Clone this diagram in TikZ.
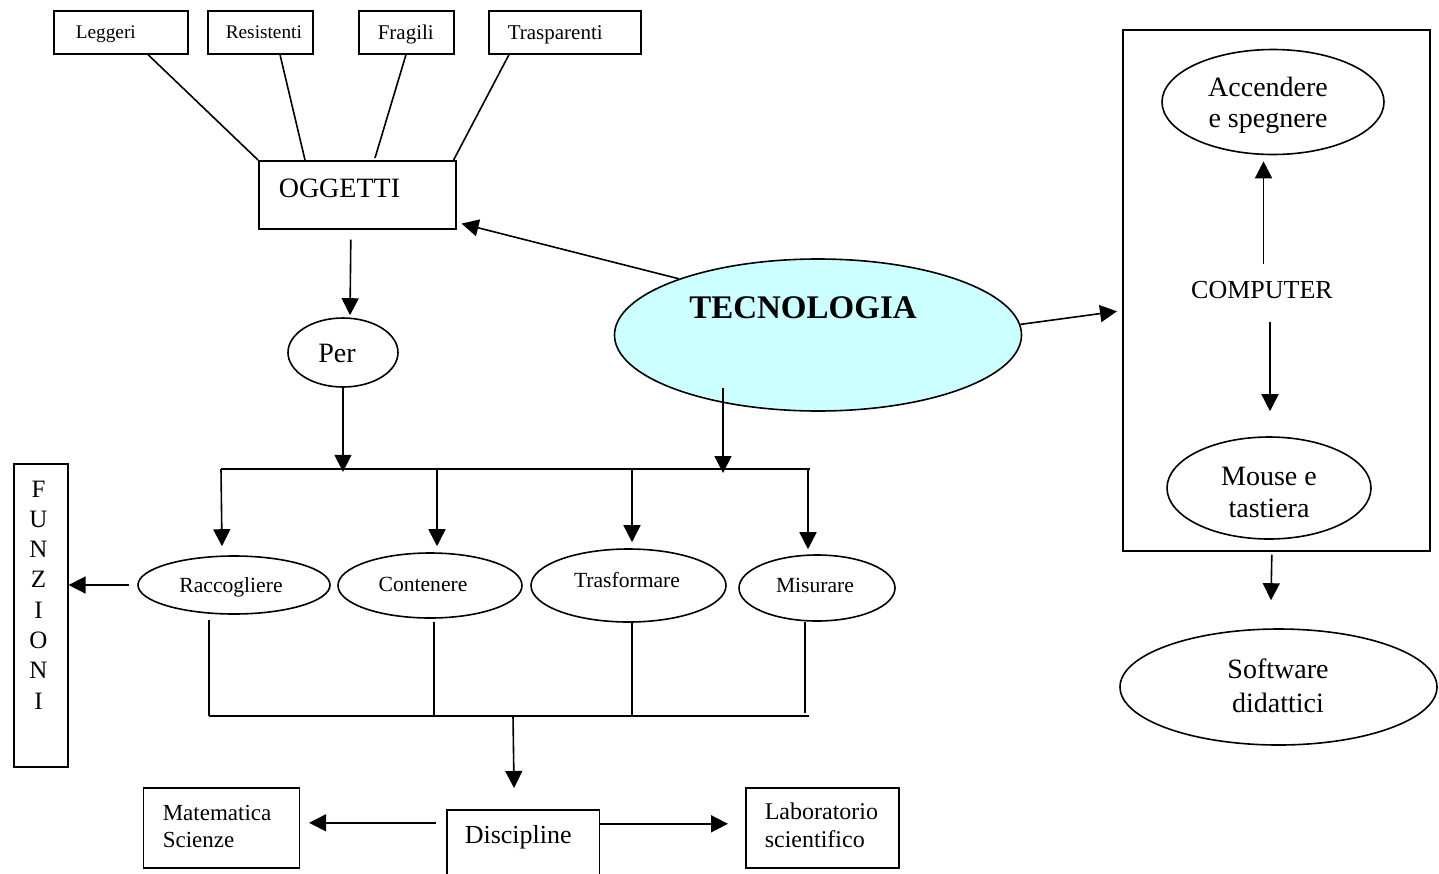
\documentclass[tikz,border=0pt]{standalone}
\usepackage{fontspec}
\setmainfont{Liberation Serif}
\usetikzlibrary{arrows.meta,shapes.geometric}
\definecolor{techfill}{HTML}{CCFFFF}
\newcommand{\setfs}[1]{\fontsize{#1}{#1}\selectfont}
\begin{document}
\begin{tikzpicture}[x=1pt,y=-1pt,
  line width=1.6pt,
  box/.style={draw,rectangle,inner sep=0pt,anchor=north west},
  oval/.style={draw,ellipse,inner sep=0pt},
  lbl/.style={anchor=base,inner sep=0pt},
  lbll/.style={anchor=base west,inner sep=0pt},
  arr/.style={-{Triangle[length=17pt,width=17pt]}}]
\useasboundingbox (0,0) rectangle (1439,873);
\clip (0,0) rectangle (1439,873);

% --- properties of the objects ---
\node[box,minimum width=134pt,minimum height=43pt] (leg) at (53,10) {};
\node[lbll,font=\setfs{19.3}] (legt) at (75,38) {Leggeri};
\node[box,minimum width=105pt,minimum height=43pt] (res) at (207,10) {};
\node[lbll,font=\setfs{19.3}] (rest) at (225,38) {Resistenti};
\node[box,minimum width=95pt,minimum height=43pt] (fra) at (358,10) {};
\node[lbll,font=\setfs{21}] (frat) at (377,39) {Fragili};
\node[box,minimum width=152pt,minimum height=43pt] (tra) at (488,10) {};
\node[lbll,font=\setfs{21}] (trat) at (507,39) {Trasparenti};

\node[box,minimum width=197pt,minimum height=68pt] (ogg) at (258,160) {};
\node[lbll,font=\setfs{28}] (oggt) at (278,197) {OGGETTI};

\draw ([xshift=95pt]leg.south west) -- (ogg.north west);
\draw ([xshift=73pt]res.south west) -- ([xshift=47pt]ogg.north west);
\draw ([xshift=48pt]fra.south west) -- ([xshift=117pt,yshift=2pt]ogg.north west);
\draw ([xshift=21pt]tra.south west) -- ([xshift=-3pt]ogg.north east);

% --- central topic ---
\node[oval,fill=techfill,minimum width=407pt,minimum height=152pt] (tec) at (818,335) {};
\node[lbl,font=\bfseries\setfs{33}] (tect) at (803,318) {TECNOLOGIA};
\draw[arr] (tec.158) -- ([xshift=5pt,yshift=6pt]ogg.south east);

% --- purpose ---
\node[oval,minimum width=110pt,minimum height=69pt] (per) at (343,352.5) {};
\node[lbl,font=\setfs{28}] (pert) at (337,362) {Per};
\draw[arr] ([xshift=-6.5pt,yshift=-10pt]ogg.south) -- ([xshift=7pt,yshift=2pt]per.north);

% --- upper distribution bar ---
\coordinate (barL) at (221,469);
\coordinate (barR) at (810,469);
\draw (barL) -- (barR);
\draw[arr] (per.south) -- ([yshift=-84pt]per.south);
\draw[arr] ([xshift=-95pt,yshift=-53pt]tec.center) -- ([xshift=-95pt,yshift=-138pt]tec.center);

% --- functions ---
\node[oval,minimum width=192pt,minimum height=58pt] (rac) at (234,585) {};
\node[lbl,font=\setfs{21.6}] (ract) at (231,592) {Raccogliere};
\node[oval,minimum width=184pt,minimum height=65pt] (con) at (430,585.5) {};
\node[lbl,font=\setfs{21.6}] (cont) at (423,591) {Contenere};
\node[oval,minimum width=195pt,minimum height=73pt] (trf) at (628.5,585.5) {};
\node[lbl,font=\setfs{21.6}] (trft) at (627,587) {Trasformare};
\node[oval,minimum width=156pt,minimum height=66pt] (mis) at (817,588) {};
\node[lbl,font=\setfs{21.6}] (mist) at (815,592) {Misurare};

\draw[arr] (barL) -- ([xshift=-12pt,yshift=9pt]rac.north);
\draw[arr] ([xshift=216pt]barL) -- ([xshift=7pt,yshift=6pt]con.north);
\draw[arr] ([xshift=411pt]barL) -- ([xshift=3.5pt,yshift=6pt]trf.north);
\draw[arr] ([xshift=-2pt]barR) -- ([xshift=-9pt,yshift=5pt]mis.north);

% --- vertical label box ---
\node[box,minimum width=54pt,minimum height=303pt] (fun) at (13,463) {};
\foreach \l [count=\i] in {F,U,N,Z,I,O,N,I}
  \node[lbl,font=\setfs{25}] (fun\i) at (38.5,{497+30.3*(\i-1)}) {\l};
\draw[arr] ([xshift=-8pt]rac.west) -- (fun.east |- rac.west);

% --- lower collecting bar ---
\coordinate (lowL) at (209,716);
\coordinate (lowC) at (434,716);
\coordinate (lowT) at (632,716);
\coordinate (lowM) at (513,716);
\coordinate (lowR) at (809,716);
\coordinate (lowS) at (805,713);
\draw (lowL) -- (lowR);
\draw ([xshift=-25pt,yshift=-5pt]rac.south) -- (lowL);
\draw ([xshift=4pt,yshift=-3pt]con.south) -- (lowC);
\draw ([xshift=3.5pt]trf.south) -- (lowT);
\draw ([xshift=-12pt]mis.south) -- (lowS);

% --- disciplines ---
\node[box,minimum width=152.5pt,minimum height=80pt] (dis) at (446,809) {};
\node[lbll,font=\setfs{26}] (dist) at (464,843) {Discipline};
\draw[arr] (lowM) -- ([xshift=-9pt,yshift=21pt]dis.north);

\node[box,minimum width=156pt,minimum height=80pt] (mat) at (142.5,787) {};
\node[lbll,font=\setfs{23}] (matt) at (162,820) {Matematica};
\node[lbll,font=\setfs{23}] (scit) at (162,847) {Scienze};
\node[box,minimum width=153pt,minimum height=80pt] (lab) at (745,787) {};
\node[lbll,font=\setfs{24}] (labt) at (764,819) {Laboratorio};
\node[lbll,font=\setfs{24}] (sct) at (764,847) {scientifico};

\draw[arr] ([xshift=-10pt,yshift=27pt]dis.west) -- ([xshift=9pt,yshift=5pt]mat.east);
\draw[arr] ([yshift=26pt]dis.east) -- ([xshift=-17pt,yshift=4pt]lab.west);

% --- computer ---
\node[box,minimum width=307pt,minimum height=521pt] (comp) at (1122,29) {};
\node[lbl,font=\setfs{26}] (compt) at (1262,298) {COMPUTER};
\draw[arr] (tec.3) -- ([xshift=-5pt,yshift=-21pt]comp.west);

\node[oval,minimum width=222pt,minimum height=105pt] (acc) at (1273,102) {};
\node[lbl,font=\setfs{28}] (acct) at (1268,96) {Accendere};
\node[lbl,font=\setfs{28}] (spet) at (1268,127) {e spegnere};
\draw[arr] ([xshift=1.5pt,yshift=16pt]compt.north) -- ([xshift=-9.5pt,yshift=-6pt]acc.south);

\node[oval,minimum width=204pt,minimum height=102pt] (mou) at (1269,488) {};
\node[lbl,font=\setfs{28}] (mout) at (1269,485) {Mouse e};
\node[lbl,font=\setfs{28}] (tast) at (1269,517) {tastiera};
\draw[arr] ([xshift=8pt,yshift=-24pt]compt.base) -- ([xshift=1pt,yshift=25pt]mou.north);

\node[oval,minimum width=317pt,minimum height=116pt] (sof) at (1278.5,687) {};
\node[lbl,font=\setfs{28}] (soft) at (1278,678) {Software};
\node[lbl,font=\setfs{28}] (didt) at (1278,712) {didattici};
\draw[arr] ([xshift=-4.5pt,yshift=-3pt]comp.south) -- ([xshift=-7.5pt,yshift=28pt]sof.north);
\end{tikzpicture}
\end{document}
